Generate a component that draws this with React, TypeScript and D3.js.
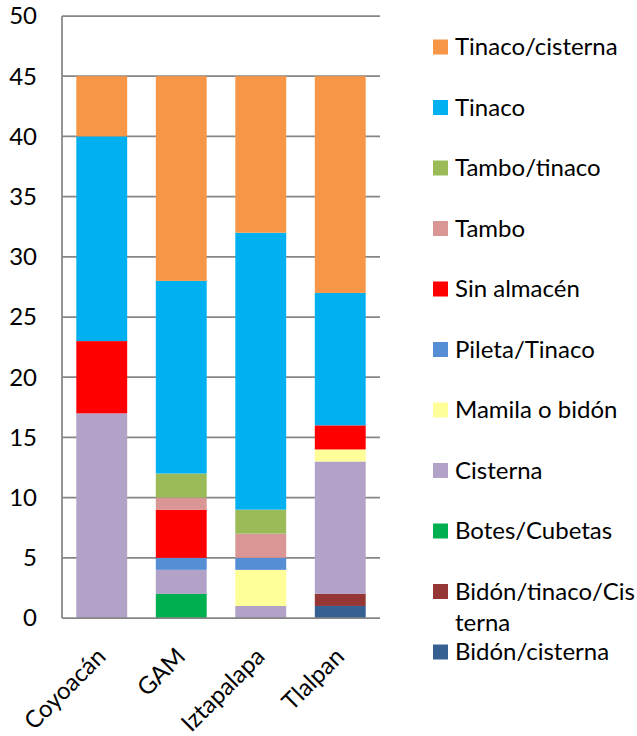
import React from "react";
import * as d3 from "d3";

const categories = ["Coyoacán", "GAM", "Iztapalapa", "Tlalpan"];
// stack order, bottom to top
const seriesNames = [
  "Bidón/cisterna",
  "Bidón/tinaco/Cisterna",
  "Botes/Cubetas",
  "Cisterna",
  "Mamila o bidón",
  "Pileta/Tinaco",
  "Sin almacén",
  "Tambo",
  "Tambo/tinaco",
  "Tinaco",
  "Tinaco/cisterna",
];
const seriesColors = [
  "#376092",
  "#953735",
  "#00B050",
  "#B2A2C7",
  "#FFFF99",
  "#558ED5",
  "#FF0000",
  "#D99694",
  "#9BBB59",
  "#00B0F0",
  "#F79646",
];
// values per series: [Coyoacán, GAM, Iztapalapa, Tlalpan]
const bidonCisterna = [0, 0, 0, 1];
const bidonTinacoCisterna = [0, 0, 0, 1];
const botesCubetas = [0, 2, 0, 0];
const cisterna = [17, 2, 1, 11];
const mamila = [0, 0, 3, 1];
const piletaTinaco = [0, 1, 1, 0];
const sinAlmacen = [6, 4, 0, 2];
const tambo = [0, 1, 2, 0];
const tamboTinaco = [0, 2, 2, 0];
const tinaco = [17, 16, 23, 11];
const tinacoCisterna = [5, 17, 13, 18];
const seriesValues = [
  bidonCisterna,
  bidonTinacoCisterna,
  botesCubetas,
  cisterna,
  mamila,
  piletaTinaco,
  sinAlmacen,
  tambo,
  tamboTinaco,
  tinaco,
  tinacoCisterna,
];
const yTicks = [0, 5, 10, 15, 20, 25, 30, 35, 40, 45, 50];
const legendLines: string[][] = [
  ["Tinaco/cisterna"],
  ["Tinaco"],
  ["Tambo/tinaco"],
  ["Tambo"],
  ["Sin almacén"],
  ["Pileta/Tinaco"],
  ["Mamila o bidón"],
  ["Cisterna"],
  ["Botes/Cubetas"],
  ["Bidón/tinaco/Cis", "terna"],
  ["Bidón/cisterna"],
];

export default function App() {
  const W = 637, H = 736;
  const left = 62, right = 380, top = 16, bottom = 618;
  const font = "Lato, 'Open Sans', sans-serif";
  const fs = 24;
  const x = d3.scaleBand().domain(categories).range([left, right]).paddingInner(0.36).paddingOuter(0.18);
  const y = d3.scaleLinear().domain([0, 50]).range([bottom, top]);
  const table = categories.map((c, i) => {
    const row: any = { cat: c };
    seriesNames.forEach((s, j) => (row[s] = seriesValues[j][i]));
    return row;
  });
  const stacked = d3.stack().keys(seriesNames)(table);
  const grid = "#868686";
  return (
    <svg width={W} height={H} style={{ position: "absolute", left: 0, top: 0 }}>
      <rect width={W} height={H} fill="#fff" />
      {yTicks.map((t) => (
        <g key={t}>
          {t > 0 && <line x1={left} x2={right} y1={y(t)} y2={y(t)} stroke={grid} strokeWidth={1.75} />}
          <text x={37} y={y(t)} dy="0.35em" textAnchor="end" fontFamily={font} fontSize={fs} fill="#000">
            {t}
          </text>
        </g>
      ))}
      {stacked.map((layer, j) => (
        <g key={seriesNames[j]} fill={seriesColors[j]}>
          {layer.map((d, i) =>
            d[1] - d[0] > 0 ? (
              <rect
                key={i}
                x={x(categories[i])}
                width={x.bandwidth()}
                y={y(d[1])}
                height={y(d[0]) - y(d[1])}
              />
            ) : null
          )}
        </g>
      ))}
      <line x1={left} x2={left} y1={top} y2={bottom} stroke={grid} strokeWidth={1.75} />
      <line x1={left} x2={right} y1={bottom} y2={bottom} stroke={grid} strokeWidth={1.75} />
      {categories.map((c) => {
        const cx = (x(c) as number) + x.bandwidth() / 2;
        return (
          <text
            key={c}
            transform={`translate(${cx + 5.5},${658}) rotate(-45)`}
            textAnchor="end"
            fontFamily={font}
            fontSize={fs}
            fill="#000"
          >
            {c}
          </text>
        );
      })}
      {legendLines.map((lines, i) => {
        const cy = 47 + i * 60.5;
        return (
          <g key={i}>
            <rect x={433} y={cy - 7.5} width={15} height={15} fill={seriesColors[seriesColors.length - 1 - i]} />
            {lines.map((ln, k) => (
              <text key={k} x={455} y={cy + k * 31} dy="0.35em" fontFamily={font} fontSize={fs} fill="#000">
                {ln}
              </text>
            ))}
          </g>
        );
      })}
    </svg>
  );
}
